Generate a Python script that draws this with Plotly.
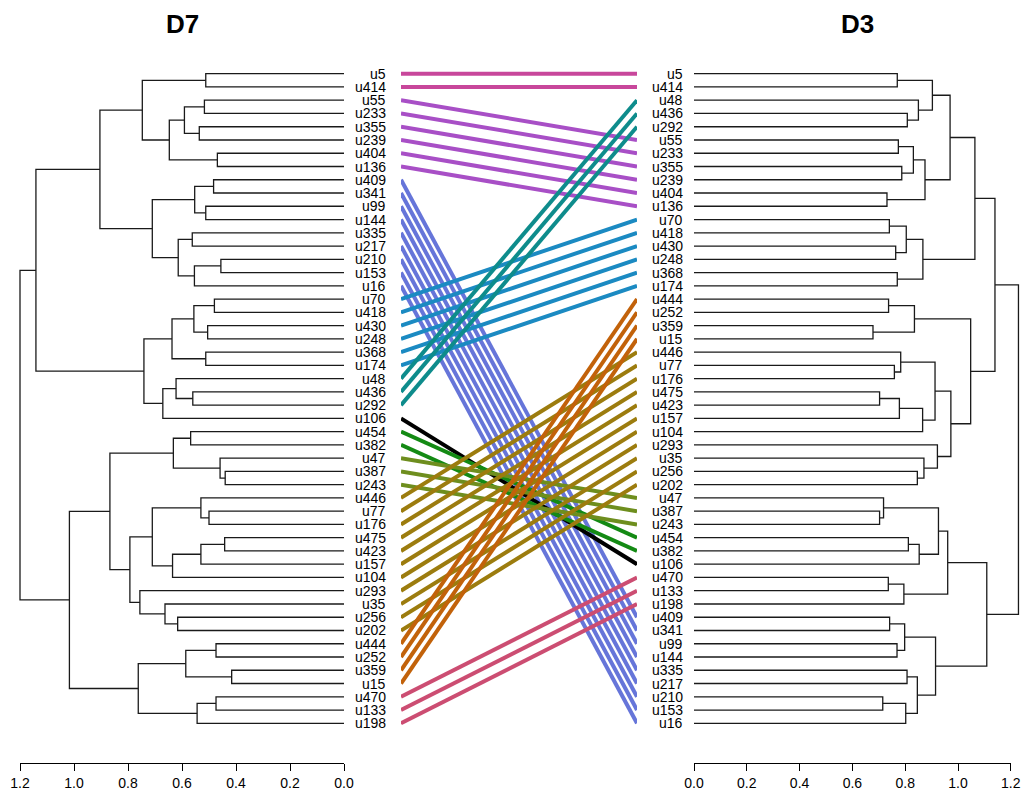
import plotly.graph_objects as go

# ---------------- data ----------------
left_title = "D7"
right_title = "D3"

left_leaves = ["u5", "u414", "u55", "u233", "u355", "u239", "u404", "u136", "u409", "u341",
               "u99", "u144", "u335", "u217", "u210", "u153", "u16", "u70", "u418", "u430",
               "u248", "u368", "u174", "u48", "u436", "u292", "u106", "u454", "u382", "u47",
               "u387", "u243", "u446", "u77", "u176", "u475", "u423", "u157", "u104", "u293",
               "u35", "u256", "u202", "u444", "u252", "u359", "u15", "u470", "u133", "u198"]

right_leaves = ["u5", "u414", "u48", "u436", "u292", "u55", "u233", "u355", "u239", "u404",
                "u136", "u70", "u418", "u430", "u248", "u368", "u174", "u444", "u252", "u359",
                "u15", "u446", "u77", "u176", "u475", "u423", "u157", "u104", "u293", "u35",
                "u256", "u202", "u47", "u387", "u243", "u454", "u382", "u106", "u470", "u133",
                "u198", "u409", "u341", "u99", "u144", "u335", "u217", "u210", "u153", "u16"]

# merges: (child_a, child_b, height); str = leaf, int = earlier merge index
left_merges = [
    ("u5", "u414", 0.512), ("u55", "u233", 0.517), ("u355", "u239", 0.536), (1, 2, 0.591),
    ("u404", "u136", 0.469), (3, 4, 0.647), (0, 5, 0.747), ("u409", "u341", 0.483),
    ("u99", "u144", 0.512), (7, 8, 0.553), ("u335", "u217", 0.562), ("u210", "u153", 0.456),
    (11, "u16", 0.554), (10, 12, 0.614), (9, 13, 0.710), (6, 14, 0.904),
    ("u70", "u418", 0.480), ("u430", "u248", 0.505), (16, 17, 0.556), ("u368", "u174", 0.512),
    (18, 19, 0.637), ("u436", "u292", 0.560), ("u48", 21, 0.622), (22, "u106", 0.671),
    (20, 23, 0.741), (15, 24, 1.141), ("u454", "u382", 0.568), ("u387", "u243", 0.440),
    ("u47", 27, 0.459), (26, 28, 0.632), ("u77", "u176", 0.500), ("u446", 30, 0.530),
    ("u475", "u423", 0.442), (32, "u157", 0.530), (33, "u104", 0.635), (31, 34, 0.710),
    ("u256", "u202", 0.616), ("u35", 36, 0.663), ("u293", 37, 0.756), (35, 38, 0.793),
    (29, 39, 0.867), ("u444", "u252", 0.474), ("u359", "u15", 0.416), (41, 42, 0.586),
    ("u470", "u133", 0.474), (44, "u198", 0.544), (43, 45, 0.762), (40, 46, 1.017),
    (25, 47, 1.200),
]

right_merges = [
    ("u5", "u414", 0.770), ("u436", "u292", 0.808), ("u48", 1, 0.850), (0, 2, 0.903),
    ("u55", "u233", 0.774), ("u355", "u239", 0.787), (4, 5, 0.831), ("u404", "u136", 0.731),
    (6, 7, 0.875), (3, 8, 0.970), ("u70", "u418", 0.740), ("u430", "u248", 0.764),
    (10, 11, 0.804), ("u368", "u174", 0.770), (12, 13, 0.867), (9, 14, 1.064),
    ("u444", "u252", 0.737), ("u359", "u15", 0.678), (16, 17, 0.835), ("u77", "u176", 0.759),
    ("u446", 19, 0.783), ("u475", "u423", 0.703), (21, "u157", 0.778), (22, "u104", 0.866),
    (20, 23, 0.913), ("u256", "u202", 0.846), ("u35", 25, 0.871), ("u293", 26, 0.922),
    (24, 27, 0.973), (18, 28, 1.048), (15, 29, 1.140), ("u387", "u243", 0.703),
    ("u47", 31, 0.718), ("u454", "u382", 0.812), (33, "u106", 0.853), (32, 34, 0.926),
    ("u470", "u133", 0.736), (36, "u198", 0.795), (35, 37, 0.961), ("u409", "u341", 0.741),
    ("u99", "u144", 0.769), (39, 40, 0.798), ("u335", "u217", 0.807), ("u210", "u153", 0.715),
    (43, "u16", 0.802), (42, 44, 0.846), (41, 45, 0.915), (38, 46, 1.109), (30, 47, 1.229),
]

clusters = [
    ["u5", "u414"],
    ["u55", "u233", "u355", "u239", "u404", "u136"],
    ["u409", "u341", "u99", "u144", "u335", "u217", "u210", "u153", "u16"],
    ["u70", "u418", "u430", "u248", "u368", "u174"],
    ["u48", "u436", "u292"],
    ["u106"],
    ["u454", "u382"],
    ["u47", "u387", "u243"],
    ["u446", "u77", "u176", "u475", "u423", "u157", "u104", "u293", "u35", "u256", "u202"],
    ["u444", "u252", "u359", "u15"],
    ["u470", "u133", "u198"],
]

axis_ticks = [0.0, 0.2, 0.4, 0.6, 0.8, 1.0, 1.2]

# ---------------- styles ----------------
cluster_colors = ["#C8479B", "#A84FC6", "#6675D9", "#1B8AC2", "#0E8C8C", "#000000",
                  "#148A14", "#6E8E1E", "#9C7C0E", "#C2620A", "#CC4D72"]
W, H = 1023, 794
FONT = "Liberation Sans, Arial, sans-serif"


def tree_segments(leaves, merges):
    pos = {leaf: (0.0, float(i)) for i, leaf in enumerate(leaves)}
    xs, ys = [], []
    for k, (a, b, h) in enumerate(merges):
        ha, ya = pos[a]
        hb, yb = pos[b]
        xs += [ha, h, h, hb, None]
        ys += [ya, ya, yb, yb, None]
        pos[k] = (h, (ya + yb) / 2.0)
    return xs, ys


fig = go.Figure()

# dummy traces for tick axes (first, so they sit underneath)
fig.add_trace(go.Scatter(x=[None], y=[None], xaxis="x4", yaxis="y", showlegend=False))
fig.add_trace(go.Scatter(x=[None], y=[None], xaxis="x5", yaxis="y", showlegend=False))

lx, ly = tree_segments(left_leaves, left_merges)
fig.add_trace(go.Scatter(x=lx, y=ly, mode="lines", xaxis="x", yaxis="y",
                         line=dict(color="#1a1a1a", width=1.3), hoverinfo="skip"))
rx, ry = tree_segments(right_leaves, right_merges)
fig.add_trace(go.Scatter(x=rx, y=ry, mode="lines", xaxis="x3", yaxis="y",
                         line=dict(color="#1a1a1a", width=1.3), hoverinfo="skip"))

# connecting lines
ridx = {leaf: i for i, leaf in enumerate(right_leaves)}
lidx = {leaf: i for i, leaf in enumerate(left_leaves)}
for members, col in zip(clusters, cluster_colors):
    xs, ys = [], []
    for leaf in members:
        xs += [0, 1, None]
        ys += [lidx[leaf], ridx[leaf], None]
    fig.add_trace(go.Scatter(x=xs, y=ys, mode="lines", xaxis="x2", yaxis="y",
                             line=dict(color=col, width=4), hoverinfo="skip"))

# leaf labels
ann = []
for i, leaf in enumerate(left_leaves):
    ann.append(dict(text=leaf, x=388 / W, xref="paper", xanchor="right", y=i, yref="y",
                    yanchor="middle", showarrow=False, font=dict(family=FONT, size=14, color="black")))
for i, leaf in enumerate(right_leaves):
    ann.append(dict(text=leaf, x=685 / W, xref="paper", xanchor="right", y=i, yref="y",
                    yanchor="middle", showarrow=False, font=dict(family=FONT, size=14, color="black")))
ann.append(dict(text="<b>%s</b>" % left_title, x=182 / W, y=1 - 24 / H, xref="paper", yref="paper",
                xanchor="center", yanchor="middle", showarrow=False,
                font=dict(family=FONT, size=26, color="black")))
ann.append(dict(text="<b>%s</b>" % right_title, x=857 / W, y=1 - 24 / H, xref="paper", yref="paper",
                xanchor="center", yanchor="middle", showarrow=False,
                font=dict(family=FONT, size=26, color="black")))

n = len(left_leaves)
px_per_leaf = 13.257
y_top_px, y_first_px, y_bot_px = 60.0, 73.7, 763.3
y_range = [n - 1 + (y_bot_px - (y_first_px + (n - 1) * px_per_leaf)) / px_per_leaf,
           -(y_first_px - y_top_px) / px_per_leaf]

hidden = dict(visible=False, showgrid=False, zeroline=False)
tick_axis = dict(showline=True, linecolor="black", linewidth=1.2, ticks="outside", ticklen=7,
                 tickwidth=1.2, tickcolor="black", showgrid=False, zeroline=False,
                 tickvals=axis_ticks, ticktext=["%.1f" % t for t in axis_ticks],
                 tickfont=dict(family=FONT, size=14, color="black"), anchor="y",
                 fixedrange=True, automargin=False)

L0, LS = 344.0, 270.0
R0, RS = 694.0, 264.0
fig.update_layout(
    width=W, height=H, margin=dict(l=0, r=0, t=0, b=0, pad=0, autoexpand=False),
    paper_bgcolor="white", plot_bgcolor="rgba(0,0,0,0)", showlegend=False,
    xaxis=dict(domain=[(L0 - 1.22 * LS) / W, L0 / W], range=[1.22, 0], anchor="y", **hidden),
    xaxis2=dict(domain=[401 / W, 637 / W], range=[0, 1], anchor="y", **hidden),
    xaxis3=dict(domain=[R0 / W, (R0 + 1.24 * RS) / W], range=[0, 1.24], anchor="y", **hidden),
    xaxis4=dict(domain=[(L0 - 1.2 * LS) / W, L0 / W], range=[1.2, 0], **tick_axis),
    xaxis5=dict(domain=[R0 / W, (R0 + 1.2 * RS) / W], range=[0, 1.2], **tick_axis),
    yaxis=dict(domain=[1 - y_bot_px / H, 1 - y_top_px / H], range=y_range, **hidden),
    annotations=ann,
)

fig.write_html("out.html", config={"displayModeBar": False},
               post_script="document.body.style.margin='0';")
